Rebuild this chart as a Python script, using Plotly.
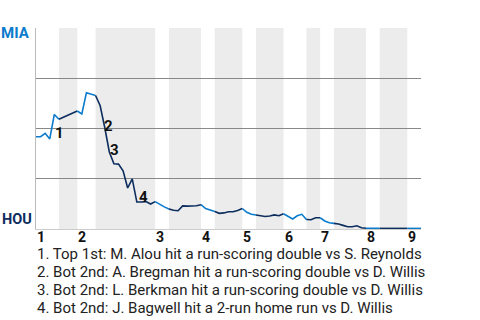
import plotly.graph_objects as go

# ---- data ----
team_top = "MIA"
team_bottom = "HOU"
inning_labels = ["1", "2", "3", "4", "5", "6", "7", "8", "9"]

start_wp = 0.459  # MIA win probability before first pitch

# MIA win probability after each plate appearance, per half inning
wp_top1 = [0.459, 0.476, 0.448, 0.570, 0.546]
wp_bot1 = [0.556, 0.567, 0.579, 0.587]
wp_top2 = [0.572, 0.678, 0.669, 0.664]
wp_bot2 = [0.613, 0.505, 0.383, 0.325, 0.323, 0.289, 0.204, 0.249, 0.134,
           0.134, 0.136, 0.124, 0.136]
wp_top3 = [0.122, 0.110, 0.100]
wp_bot3 = [0.093, 0.091, 0.115, 0.114, 0.114, 0.116, 0.121]
wp_top4 = [0.102, 0.095, 0.087]
wp_bot4 = [0.078, 0.080, 0.086, 0.086, 0.092, 0.102]
wp_top5 = [0.083, 0.073, 0.070]
wp_bot5 = [0.066, 0.062, 0.065, 0.070, 0.066, 0.076]
wp_top6 = [0.061, 0.050, 0.066, 0.073, 0.047]
wp_bot6 = [0.046, 0.056, 0.056]
wp_top7 = [0.040, 0.031, 0.028]
wp_bot7 = [0.025, 0.018, 0.011, 0.011, 0.016, 0.006, 0.004]
wp_top8 = [0.003, 0.003, 0.003]
wp_bot8 = [0.003, 0.003, 0.003, 0.003, 0.003, 0.003]
wp_top9 = [0.003, 0.003, 0.003]

half_innings = [wp_top1, wp_bot1, wp_top2, wp_bot2, wp_top3, wp_bot3,
                wp_top4, wp_bot4, wp_top5, wp_bot5, wp_top6, wp_bot6,
                wp_top7, wp_bot7, wp_top8, wp_bot8, wp_top9]

key_event_numbers = ["1", "2", "3", "4"]
key_event_index = [4, 15, 16, 22]
key_event_text = [
    "1. Top 1st: M. Alou hit a run-scoring double vs S. Reynolds",
    "2. Bot 2nd: A. Bregman hit a run-scoring double vs D. Willis",
    "3. Bot 2nd: L. Berkman hit a run-scoring double vs D. Willis",
    "4. Bot 2nd: J. Bagwell hit a 2-run home run vs D. Willis",
]

# ---- style ----
MIA_COLOR = "#0b7bcc"
HOU_COLOR = "#0c2d5e"
BAND = "#ececec"
FONT = "Roboto"

# ---- build series ----
xs = [0]
ys = [start_wp]
bounds = [0]
for vals in half_innings:
    for v in vals:
        xs.append(len(xs))
        ys.append(v)
    bounds.append(len(xs) - 1)
total = bounds[-1]

fig = go.Figure()
for k in range(len(half_innings)):
    a, b = bounds[k], bounds[k + 1]
    fig.add_trace(go.Scatter(
        x=xs[a:b + 1], y=ys[a:b + 1], mode="lines",
        line=dict(color=MIA_COLOR if k % 2 == 0 else HOU_COLOR, width=1.6),
        showlegend=False, hoverinfo="skip"))

shapes = []
for k in range(1, len(half_innings), 2):
    shapes.append(dict(type="rect", xref="x", yref="paper",
                       x0=bounds[k], x1=bounds[k + 1], y0=0, y1=1,
                       fillcolor=BAND, line=dict(width=0), layer="below"))

annotations = []
shifts = [(-1, -19), (-3, 2), (-1, 2), (0, 5)]
for num, idx, (dx, dy) in zip(key_event_numbers, key_event_index, shifts):
    annotations.append(dict(x=xs[idx], y=ys[idx], xref="x", yref="y",
                            text=num, showarrow=False, xanchor="left",
                            yanchor="middle", xshift=dx, yshift=dy,
                            font=dict(family=FONT, size=15, color="#111",
                                      weight="bold")))

# inning labels, left-aligned at the start of each inning
for lab, xv in zip(inning_labels, bounds[0::2][:9]):
    annotations.append(dict(x=xv, y=0, xref="x", yref="paper", text=lab,
                            showarrow=False, xanchor="left", yanchor="middle",
                            xshift=-1, yshift=-8,
                            font=dict(family=FONT, size=14, color="#111",
                                      weight="bold")))

for i, t in enumerate(key_event_text):
    annotations.append(dict(x=0, y=0, xref="paper", yref="paper", text=t,
                            showarrow=False, xanchor="left", yanchor="middle",
                            yshift=-25 - 18 * i, xshift=-1,
                            font=dict(family=FONT, size=15, color="#222")))

annotations.append(dict(x=0, y=1, xref="paper", yref="paper", text=team_top,
                        showarrow=False, xanchor="right", yanchor="middle",
                        xshift=-4, yshift=-5,
                        font=dict(family=FONT, size=15, color=MIA_COLOR,
                                  weight="bold")))
annotations.append(dict(x=0, y=0, xref="paper", yref="paper", text=team_bottom,
                        showarrow=False, xanchor="right", yanchor="middle",
                        xshift=-2, yshift=10,
                        font=dict(family=FONT, size=14.5, color=HOU_COLOR,
                                  weight="bold")))

fig.update_layout(
    width=480, height=320,
    margin=dict(l=36, r=59, t=28, b=91),
    plot_bgcolor="white", paper_bgcolor="white",
    shapes=shapes, annotations=annotations,
    xaxis=dict(range=[0, total], showgrid=False, zeroline=False,
               showline=True, linecolor="#cccccc", linewidth=1,
               showticklabels=False, ticks=""),
    yaxis=dict(range=[0, 1], tickvals=[0.25, 0.5, 0.75, 1],
               showticklabels=False, showgrid=True, gridcolor="#888888",
               gridwidth=1, zeroline=False, showline=True,
               linecolor="#bbbbbb", linewidth=1, ticks=""),
)

fig.write_html("out.html")
